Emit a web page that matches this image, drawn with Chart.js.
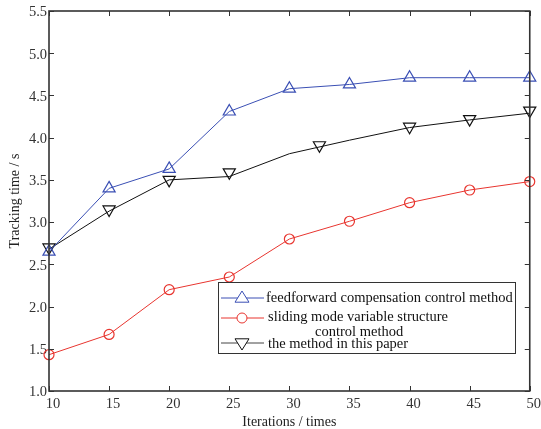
<!DOCTYPE html>
<html><head><meta charset="utf-8">
<script src="https://cdn.jsdelivr.net/npm/chart.js@4.4.0/dist/chart.umd.min.js"></script>
<style>
html,body{margin:0;padding:0;background:#fff;}
#wrap{position:relative;width:541px;height:429px;}
#legend{position:absolute;left:218px;top:282px;width:297px;height:71px;font-family:"Liberation Serif","Times New Roman",serif;font-size:14.5px;color:#111;}
#legend span{position:absolute;white-space:nowrap;line-height:1;}
</style></head>
<body><div id="wrap"><canvas id="c" width="541" height="429"></canvas>
<div id="legend">
<span style="left:48px;top:8px">feedforward compensation control method</span>
<span style="left:50px;top:27px">sliding mode variable structure</span>
<span style="left:97px;top:42px">control method</span>
<span style="left:50px;top:54px">the method in this paper</span>
</div></div>
<script>
const iterations = [10, 15, 20, 25, 30, 35, 40, 45, 50];
const feedforward = [2.65, 3.40, 3.63, 4.31, 4.58, 4.63, 4.71, 4.71, 4.71];
const slidingMode = [1.43, 1.67, 2.20, 2.35, 2.80, 3.01, 3.23, 3.38, 3.48];
const thisPaperLine = [2.68, 3.13, 3.50, 3.54, 3.81, 3.97, 4.12, 4.21, 4.29];
const thisPaperMarkerX = [10, 15, 20, 25, 32.5, 40, 45, 50];
const thisPaperMarkerY = [2.70, 3.15, 3.50, 3.59, 3.91, 4.13, 4.22, 4.32];
const xTicks = [10, 15, 20, 25, 30, 35, 40, 45, 50];
const yTicks = [1.0, 1.5, 2.0, 2.5, 3.0, 3.5, 4.0, 4.5, 5.0, 5.5];

const BLUE = '#3a4fb4', RED = '#e8352f', BLACK = '#111111';
const pts = (xs, ys) => xs.map((x, i) => ({x, y: ys[i]}));
const FONT = {family: '"Liberation Serif","Times New Roman",serif', size: 14.5};
const TFONT = {family: '"Liberation Serif","Times New Roman",serif', size: 14};

const framePlugin = {
  id: 'frame',
  afterDraw(chart) {
    const {ctx, chartArea: a, scales: {x, y}} = chart;
    ctx.save();
    ctx.strokeStyle = '#333'; ctx.lineWidth = 1.6;
    ctx.strokeRect(a.left, a.top, a.right - a.left, a.bottom - a.top);
    ctx.lineWidth = 1;
    const L = 5;
    xTicks.forEach(v => {
      const px = Math.round(x.getPixelForValue(v)) + 0.5;
      ctx.beginPath(); ctx.moveTo(px, a.bottom); ctx.lineTo(px, a.bottom - L);
      ctx.moveTo(px, a.top); ctx.lineTo(px, a.top + L); ctx.stroke();
    });
    yTicks.forEach(v => {
      const py = Math.round(y.getPixelForValue(v)) + 0.5;
      ctx.beginPath(); ctx.moveTo(a.left, py); ctx.lineTo(a.left + L, py);
      ctx.moveTo(a.right, py); ctx.lineTo(a.right - L, py); ctx.stroke();
    });
    // legend box and symbols
    const lx = 218, ly = 282, lw = 297, lh = 71;
    ctx.strokeStyle = '#333'; ctx.lineWidth = 1;
    ctx.strokeRect(lx + 0.5, ly + 0.5, lw, lh);
    const rows = [
      {y: 298, c: BLUE, s: 'up'},
      {y: 318, c: RED, s: 'circle'},
      {y: 343, c: '#444', s: 'down', mc: BLACK}
    ];
    rows.forEach(r => {
      ctx.strokeStyle = r.c; ctx.lineWidth = 1;
      ctx.beginPath(); ctx.moveTo(221, r.y); ctx.lineTo(264, r.y); ctx.stroke();
      ctx.strokeStyle = r.mc || r.c;
      const cx = 242, cy = r.y, s = 7;
      ctx.beginPath();
      if (r.s === 'circle') { ctx.arc(cx, cy, 5, 0, Math.PI * 2); }
      else if (r.s === 'up') { ctx.moveTo(cx, cy - s); ctx.lineTo(cx + s, cy + s * 0.6); ctx.lineTo(cx - s, cy + s * 0.6); ctx.closePath(); }
      else { ctx.moveTo(cx, cy + s); ctx.lineTo(cx + s, cy - s * 0.6); ctx.lineTo(cx - s, cy - s * 0.6); ctx.closePath(); }
      ctx.fillStyle = '#fff'; ctx.fill(); ctx.stroke();
    });
    ctx.restore();
  }
};

new Chart(document.getElementById('c'), {
  type: 'line',
  data: {
    datasets: [
      {label: 'feedforward compensation control method', data: pts(iterations, feedforward),
       borderColor: BLUE, borderWidth: 1, pointStyle: 'triangle', pointRadius: 7,
       pointBorderColor: BLUE, pointBackgroundColor: 'rgba(0,0,0,0)', pointBorderWidth: 1.2},
      {label: 'sliding mode variable structure control method', data: pts(iterations, slidingMode),
       borderColor: RED, borderWidth: 1, pointStyle: 'circle', pointRadius: 5,
       pointBorderColor: RED, pointBackgroundColor: 'rgba(0,0,0,0)', pointBorderWidth: 1.2},
      {label: 'the method in this paper', data: pts(iterations, thisPaperLine),
       borderColor: BLACK, borderWidth: 1, pointRadius: 0},
      {label: 'the method in this paper markers', data: pts(thisPaperMarkerX, thisPaperMarkerY),
       showLine: false, borderColor: BLACK, pointStyle: 'triangle', rotation: 180, pointRadius: 7,
       pointBorderColor: BLACK, pointBackgroundColor: 'rgba(0,0,0,0)', pointBorderWidth: 1.2}
    ]
  },
  options: {
    responsive: false, animation: false, clip: false,
    layout: {padding: {top: 11, right: 11, left: 0, bottom: 0}},
    plugins: {legend: {display: false}, tooltip: {enabled: false}},
    scales: {
      x: {type: 'linear', min: 10, max: 50,
          afterFit(s) { s.height = 38; },
          afterBuildTicks(s) { s.ticks = xTicks.map(v => ({value: v})); },
          grid: {display: false, drawTicks: false}, border: {display: false},
          ticks: {color: '#333', font: FONT, padding: 4, labelOffset: 4, maxRotation: 0, autoSkip: false},
          title: {display: true, text: 'Iterations / times', color: '#222', font: TFONT, padding: {top: 0, bottom: -2}}},
      y: {type: 'linear', min: 1, max: 5.5,
          afterFit(s) { s.width = 49; },
          afterBuildTicks(s) { s.ticks = yTicks.map(v => ({value: v})); },
          grid: {display: false, drawTicks: false}, border: {display: false},
          ticks: {color: '#333', font: FONT, padding: 2, labelOffset: 1.5, callback: v => Number(v).toFixed(1), autoSkip: false},
          title: {display: true, text: 'Tracking time / s', color: '#222', font: TFONT, padding: {top: 7, bottom: 2}}}
    }
  },
  plugins: [framePlugin]
});
</script></body></html>
